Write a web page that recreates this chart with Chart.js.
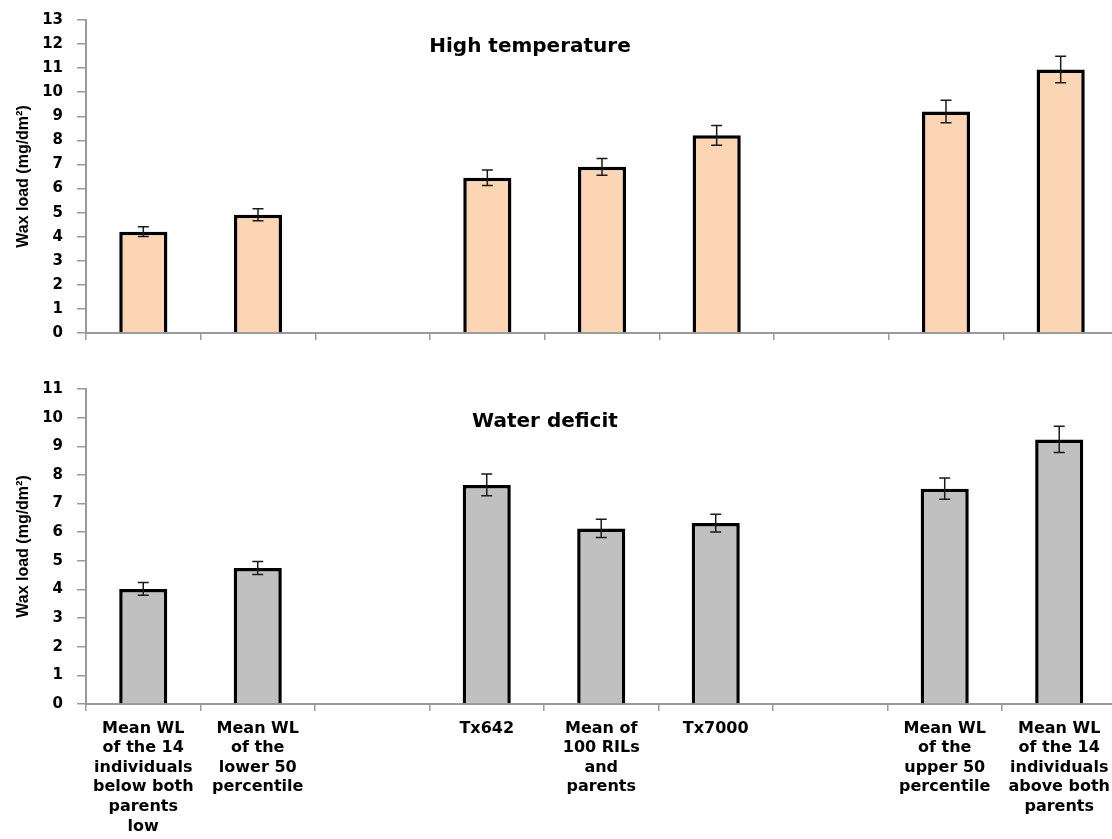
<!DOCTYPE html>
<html>
<head>
<meta charset="utf-8">
<script src="https://cdn.jsdelivr.net/npm/chart.js@4/dist/chart.umd.min.js"></script>
<style>
  html, body { margin: 0; padding: 0; background: #fff; overflow: hidden; width: 1112px; height: 839px; }
  #wrap { position: relative; width: 1112px; height: 839px; overflow: hidden; }
  canvas { position: absolute; left: 0; }
  #top { top: -3px; }
  #bottom { top: 350px; }
</style>
</head>
<body>
<div id="wrap">
  <canvas id="bottom" width="1118" height="489"></canvas>
  <canvas id="top" width="1118" height="363"></canvas>
</div>
<script>
// Groups along the x axis (empty strings are spacer slots)
const categories = [
  ["Mean WL", "of the 14", "individuals", "below both", "parents", "low"],
  ["Mean WL", "of the", "lower 50", "percentile"],
  "",
  "Tx642",
  ["Mean of", "100 RILs", "and", "parents"],
  "Tx7000",
  "",
  ["Mean WL", "of the", "upper 50", "percentile"],
  ["Mean WL", "of the 14", "individuals", "above both", "parents"]
];

// Wax load (mg/dm²) under high temperature, with standard errors
const highTemp    = [4.21, 4.91, null, 6.45, 6.90, 8.21, null, 9.20, 10.94];
const highTempErr = [0.20, 0.25, null, 0.32, 0.35, 0.41, null, 0.47, 0.55];

// Wax load (mg/dm²) under water deficit, with standard errors
const waterDeficit    = [4.02, 4.75, null, 7.65, 6.13, 6.32, null, 7.52, 9.24];
const waterDeficitErr = [0.22, 0.23, null, 0.38, 0.32, 0.31, null, 0.37, 0.46];

const yTitle = "Wax load (mg/dm\u00B2)";
const AXIS_GREY = "#9a9a9a";
const BOLD = "'DejaVu Sans', 'Liberation Sans', sans-serif";

// Draws ± error whiskers for each bar through the chart's scales
const errorBars = {
  id: "errorBars",
  afterDatasetsDraw(chart, args, opts) {
    const { ctx, scales: { x, y } } = chart;
    const vals = chart.data.datasets[0].data;
    const errs = opts.errors || [];
    ctx.save();
    ctx.strokeStyle = "#1a1a1a";
    ctx.lineWidth = 1.5;
    vals.forEach((v, i) => {
      if (v == null || errs[i] == null) return;
      const cx = x.getPixelForValue(i);
      const yHi = y.getPixelForValue(v + errs[i]);
      const yLo = y.getPixelForValue(v - errs[i]);
      ctx.beginPath();
      ctx.moveTo(cx, yHi); ctx.lineTo(cx, yLo);
      ctx.moveTo(cx - 5.5, yHi); ctx.lineTo(cx + 5.5, yHi);
      ctx.moveTo(cx - 5.5, yLo); ctx.lineTo(cx + 5.5, yLo);
      ctx.stroke();
    });
    ctx.restore();
  }
};

// Panel heading drawn inside the plot area
const panelLabel = {
  id: "panelLabel",
  afterDraw(chart, args, opts) {
    const { ctx } = chart;
    ctx.save();
    ctx.font = "bold 20px " + BOLD;
    ctx.fillStyle = "#000";
    ctx.textAlign = "center";
    ctx.textBaseline = "middle";
    ctx.fillText(opts.text, opts.x, opts.y);
    ctx.restore();
  }
};

function makePanel(canvasId, values, errors, fill, yMax, label, showLabels, padTop, axisHeight) {
  return new Chart(document.getElementById(canvasId), {
    type: "bar",
    data: {
      labels: categories,
      datasets: [{
        data: values,
        backgroundColor: fill,
        borderColor: "#000",
        borderWidth: 3.5,
        categoryPercentage: 1.0,
        barPercentage: 0.42
      }]
    },
    plugins: [errorBars, panelLabel],
    options: {
      responsive: false,
      animation: false,
      devicePixelRatio: 1,
      layout: { padding: { top: padTop, left: 0, right: 0, bottom: 0 } },
      plugins: {
        legend: { display: false },
        tooltip: { enabled: false },
        errorBars: { errors: errors },
        panelLabel: label
      },
      scales: {
        x: {
          offset: true,
          grid: { offset: true, drawOnChartArea: false, drawTicks: true, tickLength: 7, color: AXIS_GREY, lineWidth: 1.5 },
          border: { color: AXIS_GREY, width: 2 },
          ticks: {
            display: showLabels,
            autoSkip: false,
            maxRotation: 0,
            minRotation: 0,
            padding: 8,
            color: "#000",
            font: { family: BOLD, weight: "bold", size: 16, lineHeight: 1.22 }
          },
          afterFit(scale) { scale.height = axisHeight; }
        },
        y: {
          min: 0,
          max: yMax,
          grid: { drawOnChartArea: false, drawTicks: true, tickLength: 9, color: AXIS_GREY, lineWidth: 1.5 },
          border: { color: AXIS_GREY, width: 2 },
          ticks: {
            stepSize: 1,
            padding: 14,
            color: "#000",
            font: { family: BOLD, weight: "bold", size: 15 }
          },
          title: {
            display: true,
            text: yTitle,
            color: "#000",
            padding: { top: 14, bottom: 0 },
            font: { family: "'Liberation Sans Narrow', 'Liberation Sans', sans-serif", weight: "bold", size: 16 }
          },
          afterFit(scale) { scale.width = 86; }
        }
      }
    }
  });
}

makePanel("top", highTemp, highTempErr, "#FCD5B5", 13,
  { text: "High temperature", x: 530, y: 50 }, false, 15, 27);
makePanel("bottom", waterDeficit, waterDeficitErr, "#C0C0C0", 11,
  { text: "Water deficit", x: 545, y: 72 }, true, 39, 135);
</script>
</body>
</html>
